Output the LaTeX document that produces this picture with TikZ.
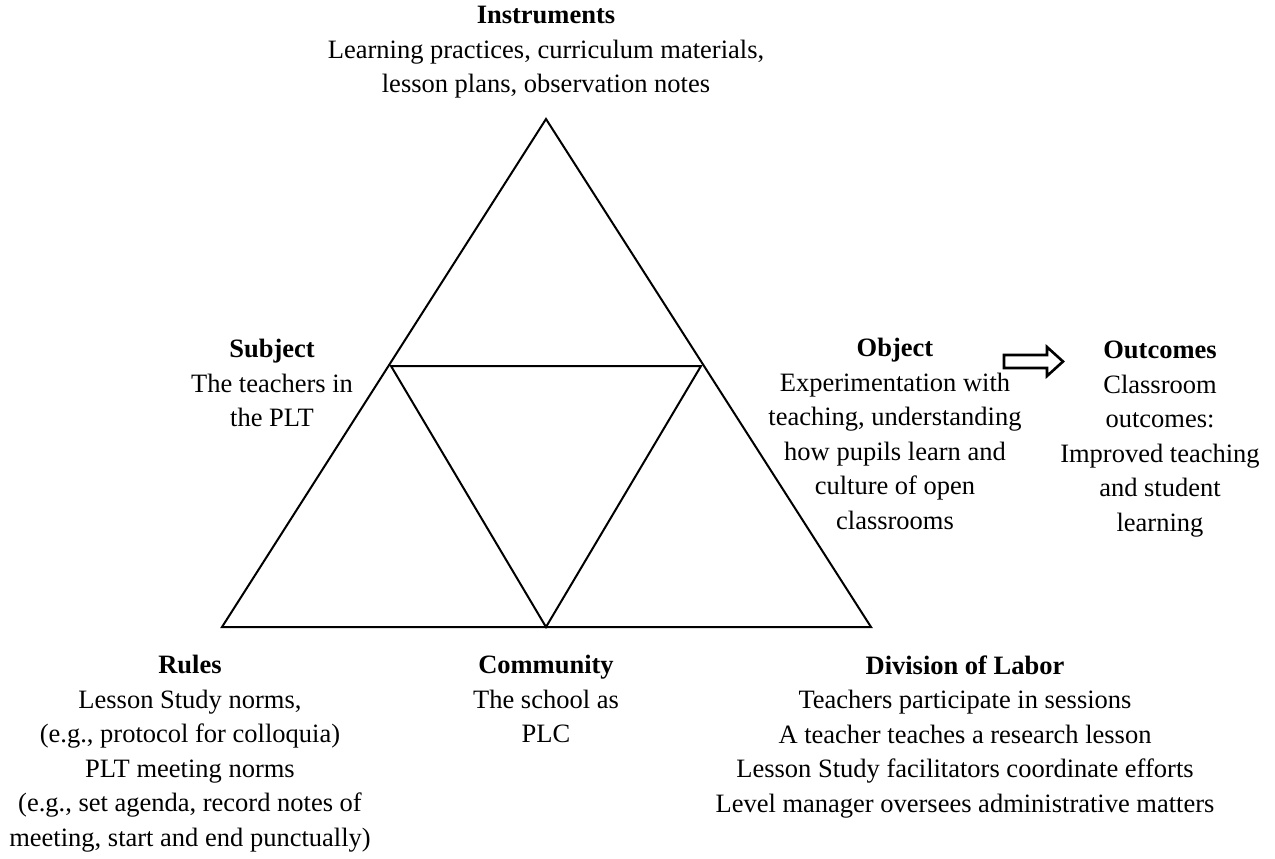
\documentclass[tikz,border=0pt]{standalone}
\usepackage{fontspec}
\setmainfont{Liberation Serif}

\begin{document}
\begin{tikzpicture}[
    x=0.5pt, y=-0.5pt,
    lab/.style={align=center, inner sep=0pt, anchor=north,
                font=\fontsize{13.25}{17.25}\selectfont,
                execute at begin node=\strut},
    edge/.style={line width=1pt, line join=miter}
]
\useasboundingbox (0,0) rectangle (1275,858);

% corners of the activity triangle
\coordinate (top) at (546,119);
\coordinate (bl)  at (222,627);
\coordinate (br)  at (871,627);
\coordinate (ml)  at (391,366);
\coordinate (mr)  at (701,366);
\coordinate (mb)  at (546,627);

\draw[edge] (top) -- (br) -- (bl) -- cycle;
\draw[edge] (ml) -- (mr) -- (mb) -- cycle;

% labels
\node[lab] (instr) at (546,6)   {\textbf{Instruments}\\Learning practices, curriculum materials,\\lesson plans, observation notes};
\node[lab] (subj)  at (272,339) {\textbf{Subject}\\The teachers in\\the PLT};
\node[lab] (obj)   at (895,338) {\textbf{Object}\\Experimentation with\\teaching, understanding\\how pupils learn and\\culture of open\\classrooms};
\node[lab] (outc)  at (1160,341) {\textbf{Outcomes}\\Classroom\\outcomes:\\Improved teaching\\and student\\learning};
\node[lab] (rules) at (190,655) {\textbf{Rules}\\Lesson Study norms,\\(e.g., protocol for colloquia)\\PLT meeting norms\\(e.g., set agenda, record notes of\\meeting, start and end punctually)};
\node[lab] (comm)  at (546,655) {\textbf{Community}\\The school as\\PLC};
\node[lab] (div)   at (965,655) {\textbf{Division of Labor}\\Teachers participate in sessions\\A teacher teaches a research lesson\\Lesson Study facilitators coordinate efforts\\Level manager oversees administrative matters};

% block arrow from object to outcomes
\coordinate (arr) at (1004,361.5);
\draw[edge, line width=1.3pt] (arr) ++(0,-6.5) -- ++(43,0) -- ++(0,-8) -- ++(16,14.5)
    -- ++(-16,14.5) -- ++(0,-8) -- ++(-43,0) -- cycle;
\end{tikzpicture}
\end{document}
